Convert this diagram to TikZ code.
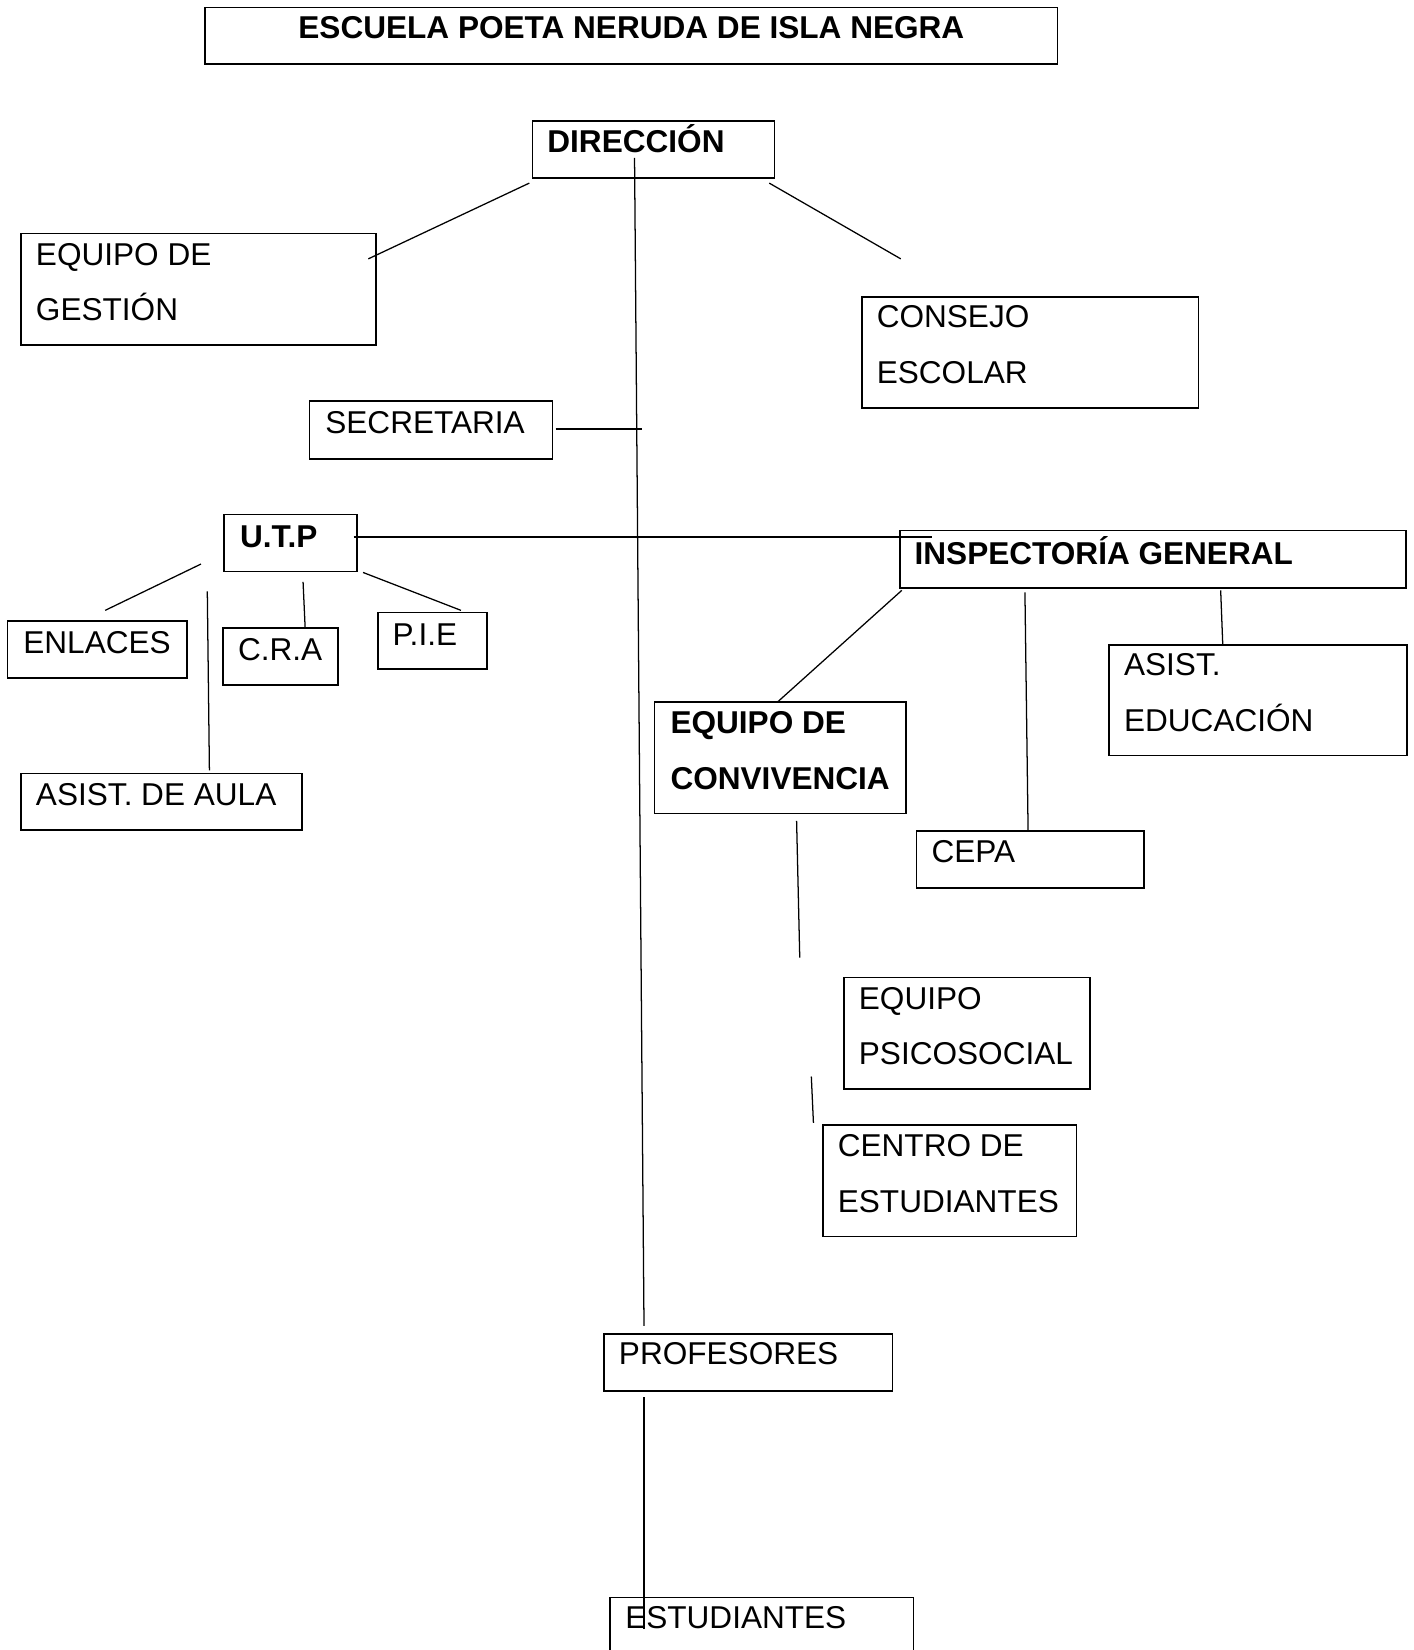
\documentclass[tikz,border=0pt]{standalone}
\usepackage{fontspec}
\setmainfont{Liberation Sans}
\begin{document}
\begin{tikzpicture}[x=1pt,y=-1pt,
  orgbox/.style={draw=black,line width=1.6pt,inner sep=0pt,outer sep=0pt,anchor=north west},
  lbl/.style={anchor=base west,inner sep=0pt,font=\fontsize{30}{36}\selectfont},
  blbl/.style={lbl,font=\fontsize{30}{36}\selectfont\bfseries},
  conn/.style={line width=1.2pt}]
\useasboundingbox (0,0) rectangle (1343,1568);
\clip (0,0) rectangle (1343,1568);
\fill[white] (0,0) rectangle (1343,1568);
% boxes
\node[orgbox,minimum width=810,minimum height=54] (title) at (195,7) {};
\node[blbl,anchor=base] (titlet) at (600,37) {ESCUELA POETA NERUDA DE ISLA NEGRA};
\node[orgbox,minimum width=230,minimum height=54] (dir) at (506,115) {};
\node[blbl] (dirt) at (520,145) {DIRECCIÓN};
\node[orgbox,minimum width=337,minimum height=106] (eg) at (20,222) {};
\node[lbl] (eg1) at (34,252) {EQUIPO DE};
\node[lbl] (eg2) at (34,305) {GESTIÓN};
\node[orgbox,minimum width=320,minimum height=106] (ce) at (819,282) {};
\node[lbl] (ce1) at (833,311) {CONSEJO};
\node[lbl] (ce2) at (833,364) {ESCOLAR};
\node[orgbox,minimum width=231,minimum height=55] (sec) at (294,381) {};
\node[lbl] (sect) at (309,412) {SECRETARIA};
\node[orgbox,minimum width=126,minimum height=54] (utp) at (213,489) {};
\node[blbl] (utpt) at (228,520) {U.T.P};
\node[orgbox,minimum width=481,minimum height=55] (ig) at (855,504) {};
\node[blbl] (igt) at (869,536) {INSPECTORÍA GENERAL};
\node[orgbox,minimum width=171,minimum height=54] (enl) at (7,590) {};
\node[lbl] (enlt) at (22,621) {ENLACES};
\node[orgbox,minimum width=109,minimum height=54] (cra) at (212,597) {};
\node[lbl] (crat) at (226,628) {C.R.A};
\node[orgbox,minimum width=104,minimum height=54] (pie) at (359,582) {};
\node[lbl] (piet) at (373,613) {P.I.E};
\node[orgbox,minimum width=267,minimum height=54] (aa) at (20,735) {};
\node[lbl] (aat) at (34,765) {ASIST. DE AULA};
\node[orgbox,minimum width=239,minimum height=106] (ec) at (622,667) {};
\node[blbl] (ec1) at (637,697) {EQUIPO DE};
\node[blbl] (ec2) at (637,750) {CONVIVENCIA};
\node[orgbox,minimum width=283,minimum height=105] (ae) at (1054,613) {};
\node[lbl] (ae1) at (1068,642) {ASIST.};
\node[lbl] (ae2) at (1068,695) {EDUCACIÓN};
\node[orgbox,minimum width=216,minimum height=54] (cepa) at (871,790) {};
\node[lbl] (cepat) at (885,820) {CEPA};
\node[orgbox,minimum width=234,minimum height=106] (eps) at (802,929) {};
\node[lbl] (eps1) at (816,959) {EQUIPO};
\node[lbl] (eps2) at (816,1012) {PSICOSOCIAL};
\node[orgbox,minimum width=241,minimum height=106] (cen) at (782,1069) {};
\node[lbl] (cen1) at (796,1099) {CENTRO DE};
\node[lbl] (cen2) at (796,1152) {ESTUDIANTES};
\node[orgbox,minimum width=274,minimum height=54] (prof) at (574,1268) {};
\node[lbl] (proft) at (588,1297) {PROFESORES};
\node[orgbox,minimum width=288,minimum height=80] (est) at (580,1518) {};
\node[lbl] (estt) at (594,1548) {ESTUDIANTES};
% connector end points
\coordinate (m0) at (603,150);
\coordinate (m1) at (612,1260);
\coordinate (d1) at (503,174);
\coordinate (g1) at (350,246);
\coordinate (d2) at (731,174);
\coordinate (c2) at (856,246);
\coordinate (s1) at (528,408);
\coordinate (s2) at (610,408);
\coordinate (u0) at (336,510);
\coordinate (i0) at (886,510);
\coordinate (u1) at (191,536);
\coordinate (n1) at (100,580);
\coordinate (u2) at (197,562);
\coordinate (a2) at (199,732);
\coordinate (u3) at (288,553);
\coordinate (r3) at (290,597);
\coordinate (u4) at (345,544);
\coordinate (p4) at (438,580);
\coordinate (i1) at (857,561);
\coordinate (e1) at (739,667);
\coordinate (i2) at (974,563);
\coordinate (e2) at (977,790);
\coordinate (i3) at (1160,561);
\coordinate (e3) at (1162,613);
\coordinate (v1) at (757,780);
\coordinate (v2) at (760,910);
\coordinate (w1) at (771,1023);
\coordinate (w2) at (773,1067);
\coordinate (p1) at (612,1328);
\coordinate (p2) at (612,1548);
% connectors
\draw[conn] (m0) -- (m1);
\draw[conn] (d1) -- (g1);
\draw[conn] (d2) -- (c2);
\draw[line width=1.8pt] (s1) -- (s2);
\draw[line width=1.6pt] (u0) -- (i0);
\draw[conn] (u1) -- (n1);
\draw[conn] (u2) -- (a2);
\draw[conn] (u3) -- (r3);
\draw[conn] (u4) -- (p4);
\draw[conn] (i1) -- (e1);
\draw[conn] (i2) -- (e2);
\draw[conn] (i3) -- (e3);
\draw[conn] (v1) -- (v2);
\draw[conn] (w1) -- (w2);
\draw[conn] (p1) -- (p2);
\end{tikzpicture}
\end{document}
